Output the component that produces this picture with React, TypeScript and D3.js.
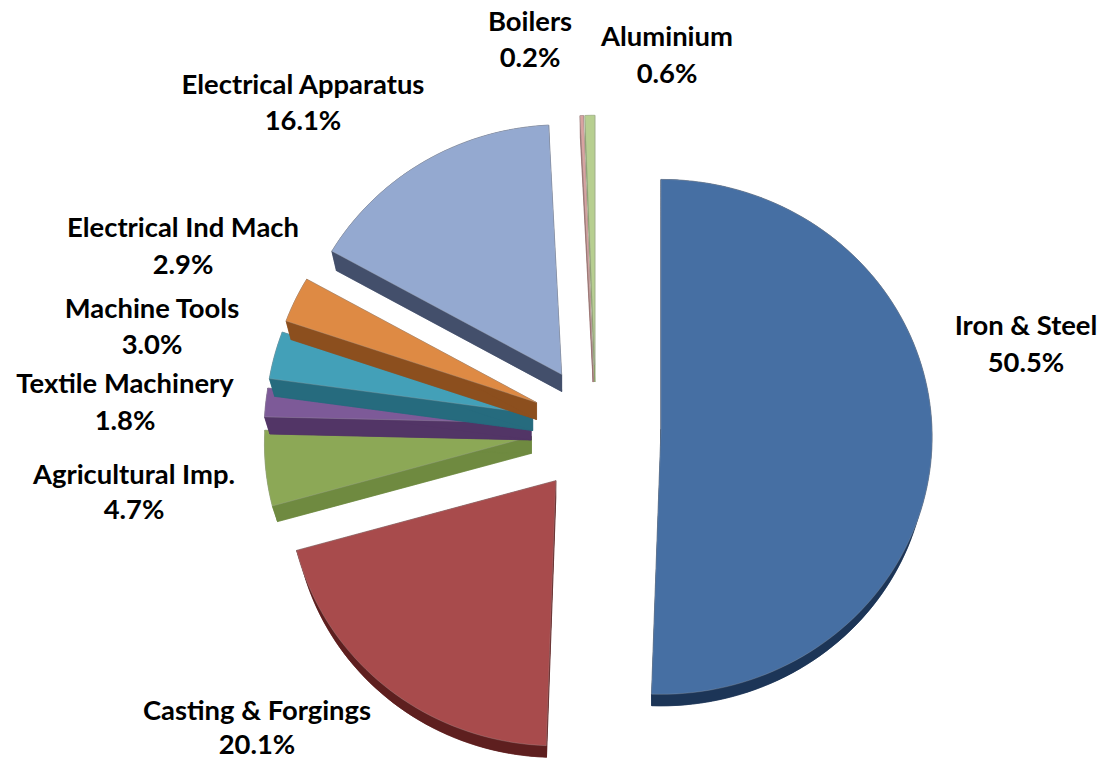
import * as d3 from 'd3';

const categories = ['Iron & Steel', 'Casting & Forgings', 'Agricultural Imp.', 'Textile Machinery', 'Machine Tools', 'Electrical Ind Mach', 'Electrical Apparatus', 'Boilers', 'Aluminium'];
const shares = [50.5, 20.1, 4.7, 1.8, 3.0, 2.9, 16.1, 0.2, 0.6];
const topColors = ['#466fa3', '#a84b4c', '#8ca856', '#7d5a98', '#43a0b8', '#de8a44', '#94a9d0', '#d9a3a0', '#b7cf90'];
const wallColors = ['#1c3557', '#5e1f1f', '#6f8a40', '#523566', '#266b7e', '#8c4f1e', '#434f6b', '#9a7270', '#8a9f6a'];

// label anchor: centre x, baseline of first line, baseline of second line
const labelSpots: [number, number, number][] = [
  [1026, 335, 372],
  [257, 720, 754],
  [134, 484, 519],
  [125, 393, 430],
  [152, 318, 354],
  [183, 237, 274],
  [303, 94, 130],
  [530, 31, 67],
  [667, 46, 83],
];

// bottom slices are painted first, upper ones overlap their apex
const paintOrder = [1, 2, 3, 4, 5, 6, 7, 8, 0];

const width = 1102;
const height = 760;
const cx = 596;
const cy = 428;
const radius = 271;
const tilt = 0.95;
const lens = 0.03;
const leftSquash = 0.985;
const explodeX = 65;
const explodeUp = 63;
const explodeDown = 67;
const depth = 17;
const depthShrink = 0.98;

// tilted pie with a little perspective: the near half comes out larger
function project(angle: number, r: number) {
  const s = 1 - lens * Math.cos(angle) * (r / radius);
  const sx = Math.sin(angle);
  return [r * sx * s * (sx < 0 ? leftSquash : 1), -r * tilt * Math.cos(angle) * s];
}

function sampleRim(a0: number, a1: number, r: number, ox: number, oy: number) {
  const n = Math.max(2, Math.ceil((a1 - a0) / 0.03));
  return d3.range(n + 1).map((i) => {
    const [x, y] = project(a0 + ((a1 - a0) * i) / n, r);
    return [ox + x, oy + y] as [number, number];
  });
}

export default function App() {
  const arcs = d3.pie<number>().sort(null).startAngle(0).endAngle(2 * Math.PI)(shares);
  const line = d3.line();

  const slices = arcs.map((a, i) => {
    const mid = (a.startAngle + a.endAngle) / 2;
    const up = Math.cos(mid);
    const ox = cx + explodeX * Math.sin(mid);
    const oy = cy - (up > 0 ? explodeUp : explodeDown) * up;
    const topRim = sampleRim(a.startAngle, a.endAngle, radius, ox, oy);
    const lowRim = sampleRim(a.startAngle, a.endAngle, radius * depthShrink, ox, oy + depth);
    const apex: [number, number] = [ox, oy];
    const lowApex: [number, number] = [ox, oy + depth];
    return {
      i,
      top: line([apex, ...topRim])! + 'Z',
      bottom: line([lowApex, ...lowRim])! + 'Z',
      rim: line([...topRim, ...lowRim.slice().reverse()])! + 'Z',
      edgeA: line([apex, topRim[0], lowRim[0], lowApex])! + 'Z',
      edgeB: line([apex, topRim[topRim.length - 1], lowRim[lowRim.length - 1], lowApex])! + 'Z',
    };
  });

  return (
    <svg
      width={width}
      height={height}
      style={{ position: 'absolute', left: 0, top: 0, display: 'block', background: '#fff' }}
    >
      {paintOrder.map((idx) => {
        const s = slices[idx];
        return (
          <g key={categories[idx]}>
            {[s.bottom, s.rim, s.edgeA, s.edgeB].map((d, k) => (
              <path key={k} d={d} fill={wallColors[idx]} stroke={wallColors[idx]} strokeWidth={0.5} />
            ))}
            <path d={s.top} fill={topColors[idx]} stroke="#a9a9a9" strokeWidth={0.5} strokeOpacity={0.6} />
          </g>
        );
      })}
      <g fontFamily="Lato, 'Open Sans', sans-serif" fontWeight={700} fontSize={27.4} fill="#000" textAnchor="middle">
        {categories.map((c, i) => (
          <text key={c} x={labelSpots[i][0]}>
            <tspan x={labelSpots[i][0]} y={labelSpots[i][1]}>{c}</tspan>
            <tspan x={labelSpots[i][0]} y={labelSpots[i][2]}>{shares[i].toFixed(1)}%</tspan>
          </text>
        ))}
      </g>
    </svg>
  );
}
